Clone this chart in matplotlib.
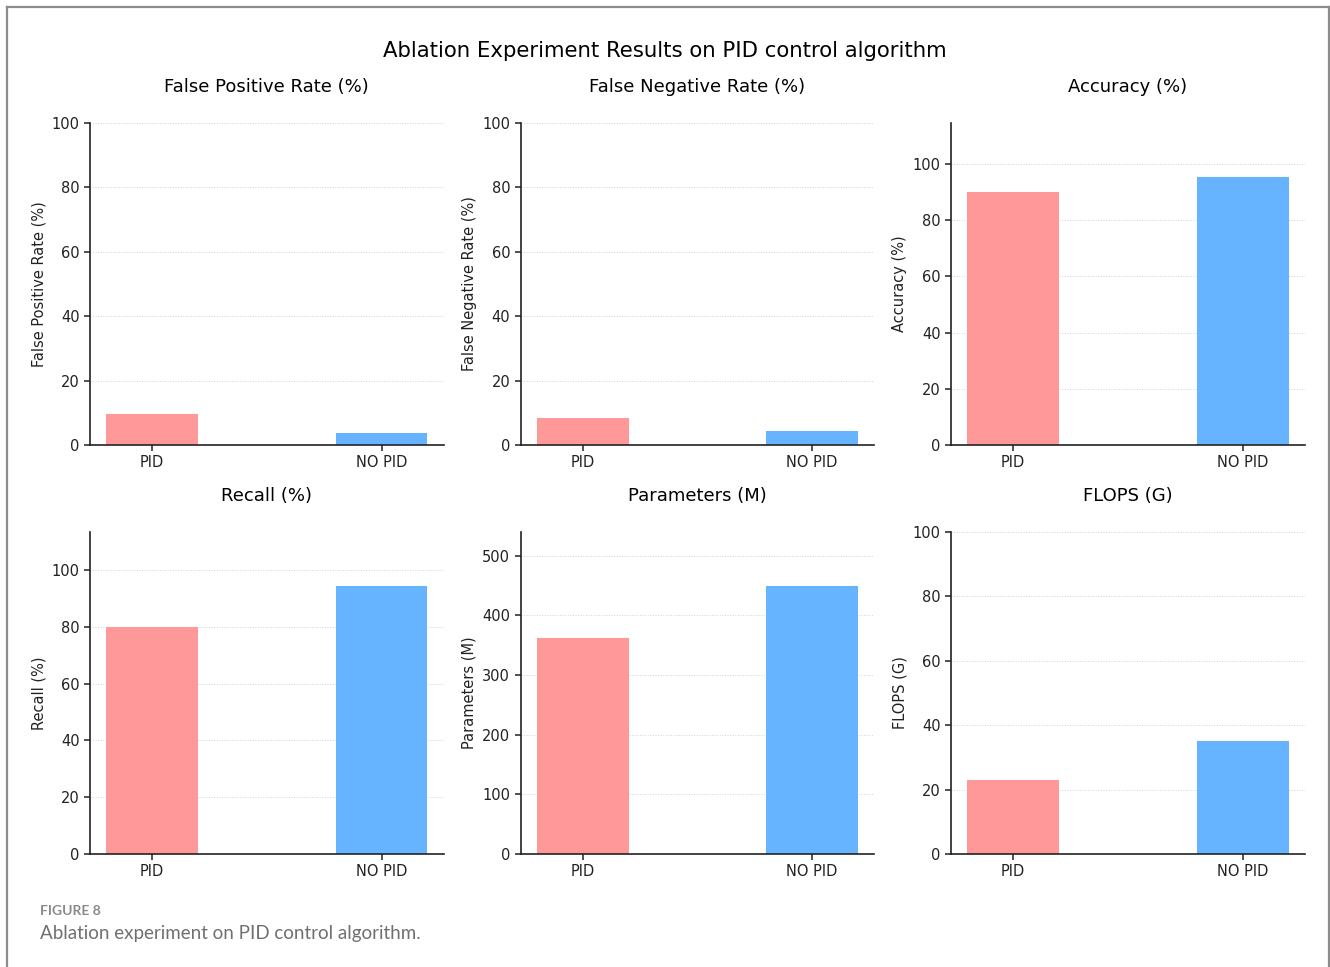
import matplotlib
matplotlib.use("Agg")
import matplotlib.pyplot as plt
from matplotlib.lines import Line2D

plt.rcParams["font.family"] = ["DejaVu Sans"]

# Ablation results: with and without the PID control algorithm
categories = ["PID", "NO PID"]
false_positive_rate = [9.6, 3.8]
false_negative_rate = [8.3, 4.5]
accuracy = [90.0, 95.5]
recall = [80.0, 94.5]
parameters_m = [362, 450]
flops_g = [23.0, 35.0]

titles = ["False Positive Rate (%)", "False Negative Rate (%)", "Accuracy (%)",
          "Recall (%)", "Parameters (M)", "FLOPS (G)"]
series = [false_positive_rate, false_negative_rate, accuracy,
          recall, parameters_m, flops_g]
# fixed 0-100 range for rate/FLOPS panels, headroom of 20% for the others
fixed_limits = [100, 100, None, None, None, 100]

colors = ["#ff9999", "#66b3ff"]

fig, axes = plt.subplots(2, 3, figsize=(13.3, 9.67), dpi=100)
fig.subplots_adjust(left=0.0677, right=0.981, top=0.8728, bottom=0.1169,
                    wspace=0.218, hspace=0.27)

for ax, title, values, lim in zip(axes.flat, titles, series, fixed_limits):
    ax.bar(categories, values, width=0.4, color=colors)
    ax.set_title(title, fontsize=13, pad=22)
    ax.set_ylabel(title, fontsize=10.5, color="#222222")
    top = lim if lim is not None else max(values) * 1.2
    ax.set_ylim(0, top)
    ax.yaxis.grid(True, linestyle=":", color="#d4d4d4", linewidth=0.7)
    ax.set_axisbelow(True)
    ax.spines["top"].set_visible(False)
    ax.spines["right"].set_visible(False)
    for s in ("left", "bottom"):
        ax.spines[s].set_linewidth(1.2)
        ax.spines[s].set_color("#222222")
    ax.tick_params(axis="both", labelsize=10.5, length=4, width=1.1,
                   color="#222222", labelcolor="#222222")

fig.suptitle("Ablation Experiment Results on PID control algorithm",
             fontsize=15.3, y=0.958)

# caption under the panels
fig.text(40 / 1330, 1 - 911 / 967, "FIGURE 8", fontsize=10, color="#8a8a8a",
         family="Lato", fontweight="bold", va="center")
fig.text(40 / 1330, 1 - 934 / 967, "Ablation experiment on PID control algorithm.",
         fontsize=13.5, color="#707070", family="Lato", va="center")

# frame around the figure
frame_x0, frame_x1 = 6.5 / 1330, 1328.5 / 1330
frame_top = 1 - 6.5 / 967
for xs, ys in [([frame_x0, frame_x0], [0, frame_top]),
               ([frame_x0, frame_x1], [frame_top, frame_top]),
               ([frame_x1, frame_x1], [frame_top, 0])]:
    fig.add_artist(Line2D(xs, ys, transform=fig.transFigure,
                          color="#8c8c8c", linewidth=1.6))

fig.savefig("out.png", dpi=100)
